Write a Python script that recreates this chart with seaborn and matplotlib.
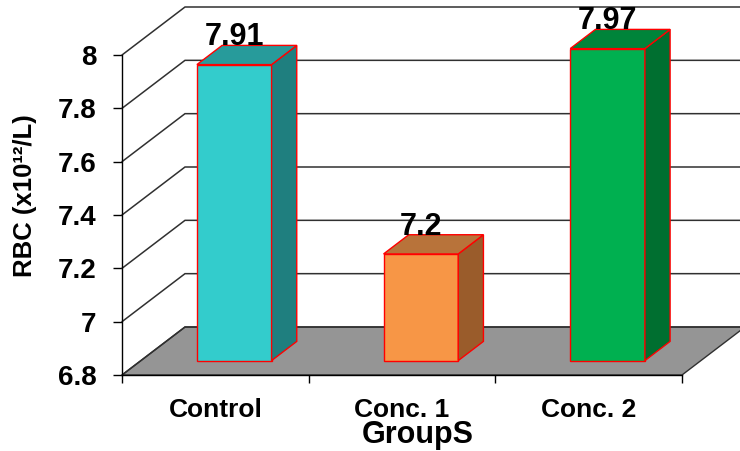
import matplotlib
matplotlib.use("Agg")
import matplotlib.pyplot as plt
from matplotlib.patches import Polygon
from matplotlib.transforms import Affine2D
import pandas as pd
import seaborn as sns

# Red blood cell count per group
groups = ["Control", "Conc. 1", "Conc. 2"]
rbc = [7.91, 7.2, 7.97]
y_ticks = [6.8, 7.0, 7.2, 7.4, 7.6, 7.8, 8.0]

# Face colours of each box: front, top, side
front_colors = ["#33CCCC", "#F79646", "#00B050"]
top_colors = ["#279B9B", "#B8733A", "#00843A"]
side_colors = ["#1F7F7F", "#9A5C2B", "#006F30"]

Y_MIN, Y_MAX = 6.8, 8.0
# oblique offset of the full chart depth, in data units (x: categories, y: value)
DEPTH_X, DEPTH_Y = 0.3375, 0.18
BAR_FRONT, BAR_BACK = 0.3, 0.7
GRID_COLOR = "#303030"
EDGE_RED = "#FF0000"


def proj(x, v, d):
    """Oblique projection of a point at depth d (0 = front, 1 = back)."""
    return (x + d * DEPTH_X, v + d * DEPTH_Y)


sns.set_theme(style="ticks")
plt.rcParams["font.family"] = ["Liberation Sans", "DejaVu Sans"]

fig = plt.figure(figsize=(7.4, 4.51), dpi=100)
ax = fig.add_axes([122 / 740, 76 / 451, 560 / 740, 320 / 451])
ax.set_facecolor("white")

df = pd.DataFrame({"group": groups, "rbc": rbc})
df["rise"] = df["rbc"] - Y_MIN

sns.barplot(
    data=df, x="group", y="rise", hue="group", palette=front_colors,
    saturation=1, bottom=Y_MIN, width=0.4, edgecolor=EDGE_RED, linewidth=1.0,
    errorbar=None, legend=False, ax=ax, zorder=3,
)
bars = list(ax.patches)

x_lo, x_hi = -0.5, len(groups) - 0.5

# floor
floor = Polygon(
    [proj(x_lo, Y_MIN, 0), proj(x_hi, Y_MIN, 0), proj(x_hi, Y_MIN, 1), proj(x_lo, Y_MIN, 1)],
    closed=True, facecolor="#959595", edgecolor=GRID_COLOR, linewidth=1.0,
    zorder=1, clip_on=False,
)
ax.add_patch(floor)

# side-wall and back-wall grid lines
for v in y_ticks:
    pts = [proj(x_lo, v, 0), proj(x_lo, v, 1), proj(x_hi, v, 1)]
    ax.plot([p[0] for p in pts], [p[1] for p in pts], color=GRID_COLOR,
            linewidth=1.1, zorder=1.5, clip_on=False, solid_joinstyle="miter")

# push the bars back into the box and give them depth
shift = Affine2D().translate(BAR_FRONT * DEPTH_X, BAR_FRONT * DEPTH_Y)
for bar in bars:
    x0, w = bar.get_x(), bar.get_width()
    y0, h = bar.get_y(), bar.get_height()
    x1, y1 = x0 + w, y0 + h
    i = int(round(x0 + w / 2))
    bar.set_transform(shift + ax.transData)
    bar.set_clip_on(False)

    side = Polygon(
        [proj(x1, y0, BAR_FRONT), proj(x1, y0, BAR_BACK),
         proj(x1, y1, BAR_BACK), proj(x1, y1, BAR_FRONT)],
        closed=True, facecolor=side_colors[i], edgecolor=EDGE_RED,
        linewidth=1.0, zorder=3, clip_on=False,
    )
    top = Polygon(
        [proj(x0, y1, BAR_FRONT), proj(x1, y1, BAR_FRONT),
         proj(x1, y1, BAR_BACK), proj(x0, y1, BAR_BACK)],
        closed=True, facecolor=top_colors[i], edgecolor=EDGE_RED,
        linewidth=1.0, zorder=3, clip_on=False,
    )
    ax.add_patch(side)
    ax.add_patch(top)

    lx = x0 + w / 2 + BAR_FRONT * DEPTH_X
    ly = y1 + BAR_BACK * DEPTH_Y
    ax.text(lx, ly, f"{rbc[i]:g}", ha="center", va="baseline",
            fontsize=22, fontweight="bold", color="black", zorder=4,
            clip_on=False)

ax.set_xlim(x_lo, x_hi)
ax.set_ylim(Y_MIN, Y_MAX)
ax.set_yticks(y_ticks)
ax.set_yticklabels([f"{t:g}" for t in y_ticks])
ax.set_xticks(range(len(groups)))
ax.set_xticklabels(groups)
ax.set_xticks([x_lo + k for k in range(len(groups) + 1)], minor=True)

ax.tick_params(axis="x", which="major", length=0, pad=16.5, labelsize=19,
               labelcolor="black")
ax.tick_params(axis="x", which="minor", length=6, width=1, color="black")
ax.tick_params(axis="y", which="major", length=6.5, width=1, pad=12,
               labelsize=20, color="black", labelcolor="black")
for lbl in ax.get_xticklabels() + ax.get_yticklabels():
    lbl.set_fontweight("bold")

sns.despine(ax=ax)
for s in ("left", "bottom"):
    ax.spines[s].set_color("black")
    ax.spines[s].set_linewidth(1.0)
    ax.spines[s].set_zorder(2.5)

ax.set_xlabel("GroupS", fontsize=22, fontweight="bold", color="black")
ax.xaxis.set_label_coords(0.528, -0.14)
ax.set_ylabel("RBC (x10¹²/L)", fontsize=18.5, fontweight="bold", color="black")
ax.yaxis.set_label_coords(-0.152, 0.56)

fig.savefig("out.png", dpi=100, facecolor="white")
